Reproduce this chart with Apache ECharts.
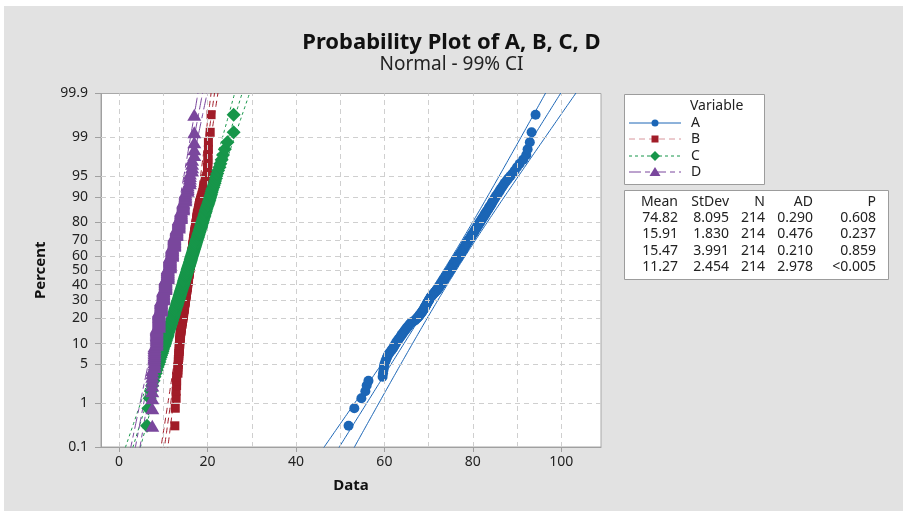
<!DOCTYPE html>
<html><head><meta charset="utf-8">
<script src="https://cdn.jsdelivr.net/npm/echarts@6/dist/echarts.min.js"></script>
<style>html,body{margin:0;padding:0;background:#fff}#c{width:903px;height:511px}</style>
</head><body><div id="c"></div><script>
// ---------- data ----------
const categories = ['A', 'B', 'C', 'D'];
const meanValues = [74.82, 15.91, 15.47, 11.27];
const stdevValues = [8.095, 1.830, 3.991, 2.454];
const nValues = [214, 214, 214, 214];
const meanLabels = ['74.82', '15.91', '15.47', '11.27'];
const stdevLabels = ['8.095', '1.830', '3.991', '2.454'];
const adLabels = ['0.290', '0.476', '0.210', '2.978'];
const pLabels = ['0.608', '0.237', '0.859', '<0.005'];
const percentTicks = [0.1, 1, 5, 10, 20, 30, 40, 50, 60, 70, 80, 90, 95, 99, 99.9];
const percentTickLabels = ['0.1', '1', '5', '10', '20', '30', '40', '50', '60', '70', '80', '90', '95', '99', '99.9'];
const percentGridValues = [1, 5, 10, 20, 30, 40, 50, 60, 70, 80, 90, 95, 99];
const dataTicks = [0, 20, 40, 60, 80, 100];
const dataGridValues = [0, 10, 20, 30, 40, 50, 60, 70, 80, 90, 100];

// sorted sample values
const dataA = [
51.9,53.2,54.8,55.7,56.0,56.4,59.6,59.7,59.8,59.9,
60.0,60.2,60.4,60.6,60.8,61.1,61.4,61.7,62.0,62.2,
62.4,62.6,62.8,63.0,63.3,63.5,63.7,63.9,64.1,64.3,
64.5,64.7,64.9,65.1,65.3,65.5,65.7,65.9,66.1,66.5,
66.9,67.1,67.3,67.5,67.7,67.9,68.0,68.2,68.3,68.5,
68.6,68.7,68.9,69.0,69.1,69.2,69.3,69.4,69.5,69.6,
69.7,69.8,69.9,70.0,70.1,70.2,70.3,70.4,70.5,70.6,
70.8,70.9,71.1,71.2,71.4,71.5,71.7,71.8,72.0,72.1,
72.2,72.3,72.4,72.5,72.6,72.7,72.8,72.9,73.0,73.1,
73.2,73.3,73.4,73.5,73.6,73.7,73.8,73.9,74.0,74.1,
74.2,74.3,74.4,74.5,74.6,74.7,74.8,
74.9,75.0,75.1,75.2,75.3,75.3,75.4,75.5,75.6,75.7,
75.8,75.9,76.0,76.1,76.2,76.3,76.4,76.5,76.6,76.7,
76.8,76.9,77.0,77.1,77.2,77.3,77.4,77.5,77.6,77.7,
77.8,77.9,78.0,78.1,78.2,78.3,78.4,78.5,78.6,78.7,
78.8,78.9,79.0,79.1,79.2,79.4,79.5,79.6,79.7,79.8,
79.9,80.0,80.2,80.3,80.4,80.5,80.6,80.8,80.9,81.0,
81.1,81.3,81.4,81.5,81.7,81.8,81.9,82.1,82.2,82.4,
82.5,82.7,82.8,83.0,83.1,83.3,83.5,83.6,83.8,84.0,
84.2,84.3,84.5,84.7,84.9,85.1,85.3,85.6,85.8,86.1,
86.3,86.6,86.9,87.2,87.6,88.0,88.5,89.0,89.5,90.0,
90.6,91.4,92.1,92.4,92.9,93.3,94.2];

const dataB = [
12.6,12.7,12.9,12.9,13.0,13.0,13.0,13.3,13.3,13.3,
13.4,13.4,13.4,13.5,13.5,13.5,13.6,13.6,13.6,13.6,
13.7,13.7,13.7,13.7,13.8,13.8,13.8,13.8,13.9,13.9,
14.0,14.0,14.0,14.1,14.1,14.1,14.2,14.2,14.2,14.3,
14.3,14.3,14.4,14.4,14.4,14.5,14.5,14.5,14.5,14.6,
14.6,14.6,14.7,14.7,14.7,14.7,14.8,14.8,14.8,14.8,
14.9,14.9,14.9,14.9,15.0,15.0,15.0,15.0,15.1,15.1,
15.1,15.1,15.2,15.2,15.2,15.2,15.2,15.3,15.3,15.3,
15.3,15.4,15.4,15.4,15.4,15.4,15.5,15.5,15.5,15.5,
15.6,15.6,15.6,15.6,15.6,15.7,15.7,15.7,15.7,15.7,
15.8,15.8,15.8,15.8,15.9,15.9,15.9,
15.9,15.9,16.0,16.0,16.0,16.0,16.1,16.1,16.1,16.1,
16.1,16.2,16.2,16.2,16.2,16.2,16.3,16.3,16.3,16.3,
16.4,16.4,16.4,16.4,16.4,16.5,16.5,16.5,16.5,16.6,
16.6,16.6,16.6,16.6,16.7,16.7,16.7,16.7,16.8,16.8,
16.8,16.8,16.9,16.9,16.9,16.9,17.0,17.0,17.0,17.0,
17.1,17.1,17.1,17.1,17.2,17.2,17.2,17.3,17.3,17.3,
17.3,17.4,17.4,17.4,17.5,17.5,17.5,17.6,17.6,17.6,
17.7,17.7,17.7,17.8,17.9,17.9,18.0,18.0,18.1,18.1,
18.2,18.2,18.3,18.4,18.5,18.6,18.7,18.8,18.9,19.0,
19.1,19.2,19.3,19.4,19.5,19.6,19.8,20.0,20.0,20.0,
20.1,20.1,20.1,20.2,20.2,20.6,20.8];

const dataC = [
6.3,6.6,6.9,7.2,7.5,7.8,8.0,8.3,8.5,8.7,
8.9,9.1,9.2,9.4,9.5,9.7,9.8,9.9,10.0,10.2,
10.3,10.4,10.5,10.6,10.7,10.8,10.9,11.0,11.0,11.1,
11.2,11.3,11.4,11.5,11.5,11.6,11.7,11.8,11.8,11.9,
12.0,12.0,12.1,12.2,12.2,12.3,12.4,12.4,12.5,12.5,
12.6,12.7,12.7,12.8,12.8,12.9,13.0,13.0,13.1,13.1,
13.2,13.2,13.3,13.3,13.4,13.5,13.5,13.6,13.6,13.7,
13.7,13.8,13.8,13.9,13.9,14.0,14.0,14.1,14.1,14.2,
14.2,14.3,14.3,14.4,14.4,14.5,14.5,14.6,14.6,14.7,
14.7,14.7,14.8,14.8,14.9,14.9,15.0,15.0,15.1,15.1,
15.2,15.2,15.3,15.3,15.4,15.4,15.5,
15.5,15.5,15.6,15.6,15.7,15.7,15.8,15.8,15.9,15.9,
16.0,16.0,16.1,16.1,16.2,16.2,16.2,16.3,16.3,16.4,
16.4,16.5,16.5,16.6,16.6,16.7,16.7,16.8,16.8,16.9,
16.9,17.0,17.0,17.1,17.1,17.2,17.2,17.3,17.3,17.4,
17.4,17.5,17.5,17.6,17.6,17.7,17.8,17.8,17.9,17.9,
18.0,18.0,18.1,18.2,18.2,18.3,18.3,18.4,18.5,18.5,
18.6,18.6,18.7,18.8,18.8,18.9,19.0,19.0,19.1,19.2,
19.3,19.3,19.4,19.5,19.6,19.6,19.7,19.8,19.9,20.0,
20.1,20.2,20.3,20.4,20.5,20.6,20.7,20.8,20.9,21.0,
21.1,21.3,21.4,21.6,21.7,21.9,22.0,22.2,22.4,22.7,
22.9,23.2,23.5,23.9,24.5,25.9,25.9];

const dataD = [
7.5,7.5,7.5,7.5,7.5,7.5,7.5,7.5,7.5,8.0,
8.0,8.0,8.0,8.0,8.0,8.0,8.0,8.0,8.0,8.0,
8.5,8.5,8.5,8.5,8.5,8.5,8.5,8.5,8.5,8.5,
8.5,8.5,8.5,8.5,9.0,9.0,9.0,9.0,9.0,9.0,
9.0,9.0,9.0,9.0,9.0,9.0,9.0,9.0,9.0,9.0,
9.0,9.5,9.5,9.5,9.5,9.5,9.5,9.5,9.5,9.5,
9.5,9.5,9.5,9.5,9.5,10.0,10.0,10.0,10.0,10.0,
10.0,10.0,10.0,10.0,10.0,10.0,10.0,10.0,10.0,10.5,
10.5,10.5,10.5,10.5,10.5,10.5,10.5,10.5,10.5,10.5,
10.5,10.5,10.5,10.5,10.5,11.0,11.0,11.0,11.0,11.0,
11.0,11.0,11.0,11.0,11.0,11.0,11.0,11.0,11.0,11.0,
11.0,11.5,11.5,11.5,11.5,11.5,11.5,11.5,11.5,11.5,
11.5,11.5,11.5,11.5,11.5,11.5,11.5,11.5,12.0,12.0,
12.0,12.0,12.0,12.0,12.0,12.0,12.0,12.0,12.0,12.0,
12.0,12.0,12.5,12.5,12.5,12.5,12.5,12.5,12.5,12.5,
12.5,12.5,12.5,12.5,12.5,12.5,13.0,13.0,13.0,13.0,
13.0,13.0,13.0,13.0,13.0,13.5,13.5,13.5,13.5,13.5,
13.5,13.5,13.5,13.5,13.5,14.0,14.0,14.0,14.0,14.0,
14.0,14.0,14.0,14.5,14.5,14.5,14.5,14.5,14.5,14.5,
15.0,15.0,15.0,15.0,15.0,15.0,15.5,15.5,15.5,15.5,
16.0,16.0,16.0,16.0,16.0,16.5,16.5,16.5,16.5,17.0,
17.0,17.0,17.0,17.0];

const seriesValues = [dataA, dataB, dataC, dataD];

// ---------- styles ----------
const colors = ['#1c66b6', '#a11c28', '#17964a', '#7a479d'];
const legendLineColors = ['#1c66b6', '#d8969c', '#17964a', '#7a479d'];
const symbols = ['circle', 'rect', 'diamond', 'triangle'];
const symbolSizes = [10, 9, [14, 14], [14, 12]];
const lineTypes = ['solid', [6, 4], [3, 3], [12, 4, 5, 4]];
const FONT = '"Noto Sans", "DejaVu Sans", sans-serif';

// inverse standard normal CDF (probability scale transform)
function probit(p) {
  const a = [-3.969683028665376e+01, 2.209460984245205e+02, -2.759285104469687e+02, 1.383577518672690e+02, -3.066479806614716e+01, 2.506628277459239e+00];
  const b = [-5.447609879822406e+01, 1.615858368580409e+02, -1.556989798598866e+02, 6.680131188771972e+01, -1.328068155288572e+01];
  const c = [-7.784894002430293e-03, -3.223964580411365e-01, -2.400758277161838e+00, -2.549732539343734e+00, 4.374664141464968e+00, 2.938163982698783e+00];
  const d = [7.784695709041462e-03, 3.224671290700398e-01, 2.445134137142996e+00, 3.754408661907416e+00];
  const pl = 0.02425;
  let q, r;
  if (p < pl) {
    q = Math.sqrt(-2 * Math.log(p));
    return (((((c[0]*q+c[1])*q+c[2])*q+c[3])*q+c[4])*q+c[5]) / ((((d[0]*q+d[1])*q+d[2])*q+d[3])*q+1);
  }
  if (p > 1 - pl) {
    q = Math.sqrt(-2 * Math.log(1 - p));
    return -(((((c[0]*q+c[1])*q+c[2])*q+c[3])*q+c[4])*q+c[5]) / ((((d[0]*q+d[1])*q+d[2])*q+d[3])*q+1);
  }
  q = p - 0.5; r = q * q;
  return (((((a[0]*r+a[1])*r+a[2])*r+a[3])*r+a[4])*r+a[5])*q / (((((b[0]*r+b[1])*r+b[2])*r+b[3])*r+b[4])*r+1);
}

const zTicks = percentTicks.map(p => probit(p / 100));
const zMin = zTicks[0], zMax = zTicks[zTicks.length - 1];
const zCI = 2.5758; // 99% CI

const series = [];
// grid lines
series.push({
  type: 'line', data: [], silent: true, animation: false, z: 1,
  markLine: {
    silent: true, animation: false, symbol: ['none', 'none'], label: { show: false },
    lineStyle: { type: [5, 4], color: '#cfcfcf', width: 1 },
    data: dataGridValues.map(v => ({ xAxis: v })).concat(percentGridValues.map(p => ({ yAxis: probit(p / 100) })))
  }
});

const zs = [];
for (let z = -3.2; z <= 3.2001; z += 0.02) zs.push(z);

// fitted line and 99% confidence band from Mean / StDev / N
categories.forEach((name, k) => {
  const m = meanValues[k], s = stdevValues[k], n = nValues[k];
  const fit = zs.map(z => [m + s * z, z]);
  const lo = zs.map(z => [m + s * z - zCI * s * Math.sqrt(1 / n + z * z / (2 * n)), z]);
  const hi = zs.map(z => [m + s * z + zCI * s * Math.sqrt(1 / n + z * z / (2 * n)), z]);
  [fit, lo, hi].forEach(d => series.push({
    type: 'line', data: d, showSymbol: false, symbol: 'none', silent: true, animation: false, z: 2,
    clip: true, lineStyle: { color: colors[k], width: 1, type: lineTypes[k] }
  }));
});

// points at median-rank plotting positions
categories.forEach((name, k) => {
  const vals = seriesValues[k];
  const n = vals.length;
  series.push({
    type: 'scatter', name: name, silent: true, animation: false, z: 3 + k,
    symbol: symbols[k], symbolSize: symbolSizes[k],
    itemStyle: { color: colors[k], opacity: 1 },
    data: vals.map((v, i) => [v, probit((i + 1 - 0.3) / (n + 0.4))])
  });
});

// ---------- legend & stats table as graphic ----------
const graphics = [];
graphics.push({ type: 'rect', z: -10, shape: { x: 0, y: 0, width: 903, height: 6 }, style: { fill: '#ffffff' } });
graphics.push({ type: 'rect', z: -10, shape: { x: 0, y: 0, width: 4, height: 511 }, style: { fill: '#ffffff' } });
graphics.push({ type: 'rect', z: 10, shape: { x: 624.5, y: 94.5, width: 140, height: 90 }, style: { fill: '#fff', stroke: '#9c9c9c', lineWidth: 1 } });
graphics.push({ type: 'text', z: 11, x: 690, y: 106, style: { text: 'Variable', font: '14px ' + FONT, fill: '#222', textVerticalAlign: 'middle' } });
const legY = [123, 139, 156, 172];
categories.forEach((name, k) => {
  const y = legY[k];
  graphics.push({ type: 'line', z: 11, shape: { x1: 629, y1: y, x2: 681, y2: y }, style: { stroke: legendLineColors[k], lineWidth: 1, lineDash: Array.isArray(lineTypes[k]) ? lineTypes[k] : null } });
  const cx = 655;
  if (k === 0) graphics.push({ type: 'circle', z: 12, shape: { cx: cx, cy: y, r: 3.5 }, style: { fill: colors[k] } });
  if (k === 1) graphics.push({ type: 'rect', z: 12, shape: { x: cx - 3.5, y: y - 3.5, width: 7, height: 7 }, style: { fill: colors[k] } });
  if (k === 2) graphics.push({ type: 'polygon', z: 12, shape: { points: [[cx, y - 5], [cx + 5, y], [cx, y + 5], [cx - 5, y]] }, style: { fill: colors[k] } });
  if (k === 3) graphics.push({ type: 'polygon', z: 12, shape: { points: [[cx, y - 5], [cx + 5.5, y + 4], [cx - 5.5, y + 4]] }, style: { fill: colors[k] } });
  graphics.push({ type: 'text', z: 11, x: 691, y: y, style: { text: name, font: '14px ' + FONT, fill: '#222', textVerticalAlign: 'middle' } });
});
graphics.push({ type: 'rect', z: 10, shape: { x: 624.5, y: 190.5, width: 264, height: 89 }, style: { fill: '#fff', stroke: '#9c9c9c', lineWidth: 1 } });
const colRight = [678, 729, 765, 813, 876];
const headers = ['Mean', 'StDev', 'N', 'AD', 'P'];
const rowY = [202, 218.5, 234.5, 251, 267.5];
headers.forEach((h, j) => graphics.push({ type: 'text', z: 11, x: colRight[j], y: rowY[0], style: { text: h, font: '14px ' + FONT, fill: '#222', textAlign: 'right', textVerticalAlign: 'middle' } }));
categories.forEach((name, k) => {
  const row = [meanLabels[k], stdevLabels[k], String(nValues[k]), adLabels[k], pLabels[k]];
  row.forEach((t, j) => graphics.push({ type: 'text', z: 11, x: colRight[j], y: rowY[k + 1], style: { text: t, font: '14px ' + FONT, fill: '#222', textAlign: 'right', textVerticalAlign: 'middle' } }));
});

const chart = echarts.init(document.getElementById('c'));
chart.setOption({
  backgroundColor: '#e2e2e2',
  animation: false,
  title: {
    text: 'Probability Plot of A, B, C, D', subtext: 'Normal - 99% CI',
    left: 'center', top: 32, padding: [0, 0, 0, 9], itemGap: 1,
    textStyle: { fontFamily: FONT, fontSize: 22, fontWeight: 'bold', color: '#111' },
    subtextStyle: { fontFamily: FONT, fontSize: 19, color: '#222' }
  },
  grid: { left: 101, right: 302, top: 93.5, bottom: 64, show: true, backgroundColor: '#fff', borderColor: '#a8a8a8', borderWidth: 1, containLabel: false },
  xAxis: {
    type: 'value', min: -4.1, max: 109,
    name: 'Data', nameLocation: 'middle', nameGap: 31,
    nameTextStyle: { fontFamily: FONT, fontSize: 15, fontWeight: 'bold', color: '#111' },
    axisLine: { show: true, onZero: false, lineStyle: { color: '#a0a0a0' } },
    axisTick: { show: true, length: 5, customValues: dataTicks, lineStyle: { color: '#a0a0a0' } },
    axisLabel: { customValues: dataTicks, margin: 8, fontFamily: FONT, fontSize: 14, color: '#222' },
    splitLine: { show: false }
  },
  yAxis: {
    type: 'value', min: zMin, max: zMax,
    name: 'Percent', nameLocation: 'middle', nameGap: 53, nameRotate: 90,
    nameTextStyle: { fontFamily: FONT, fontSize: 15, fontWeight: 'bold', color: '#111' },
    axisLine: { show: true, onZero: false, lineStyle: { color: '#a0a0a0' } },
    axisTick: { show: true, length: 6, customValues: zTicks, lineStyle: { color: '#a0a0a0' } },
    axisLabel: {
      customValues: zTicks, margin: 13, fontFamily: FONT, fontSize: 14, color: '#222',
      formatter: function (v) {
        for (let i = 0; i < zTicks.length; i++) if (Math.abs(zTicks[i] - v) < 1e-6) return percentTickLabels[i];
        return '';
      }
    },
    splitLine: { show: false }
  },
  graphic: graphics,
  series: series
});
</script></body></html>
